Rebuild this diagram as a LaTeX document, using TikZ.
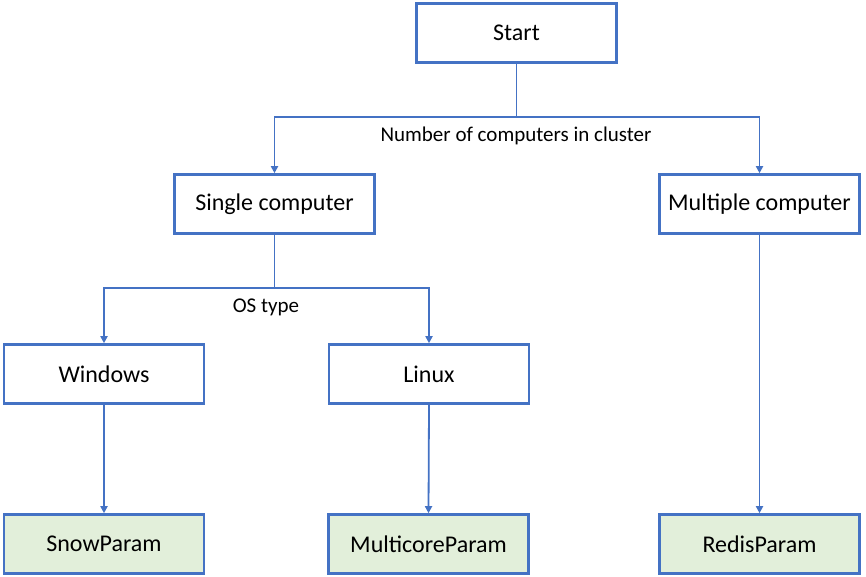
\documentclass[tikz,border=0pt]{standalone}
\usepackage{fontspec}
\setmainfont{Carlito}
\usetikzlibrary{arrows.meta}
\definecolor{bdr}{HTML}{4472C4}
\definecolor{grn}{HTML}{E2EFDA}
\tikzset{
  box/.style={draw=bdr, line width=2.6pt, fill=white, minimum width=200pt, minimum height=59pt, inner sep=0pt, font=\fontsize{24}{28}\selectfont},
  leaf/.style={box, fill=grn},
  conn/.style={draw=bdr, line width=1.8pt, -{Triangle[length=7pt,width=7pt]}},
  lbl/.style={font=\fontsize{21}{25}\selectfont, inner sep=0pt}
}
\begin{document}
\begin{tikzpicture}[x=1pt,y=-1pt]
\useasboundingbox (0,0) rectangle (866,577);
\node[box] (start) at (516.5,33) {Start};
\node[box] (single) at (274.5,204) {Single computer};
\node[box] (multi) at (759.5,204) {Multiple computer};
\node[box] (win) at (104,374) {Windows};
\node[box] (lin) at (429,374) {Linux};
\node[leaf] (snow) at (104,544) {SnowParam};
\node[leaf] (mc) at (428.5,544) {MulticoreParam};
\node[leaf] (redis) at (759.5,544) {RedisParam};
\coordinate (j1) at (516.5,117);
\coordinate (j2) at (274.5,288);
\draw[conn] (start.south) -- (j1) -| (single.north);
\draw[conn] (j1) -| (multi.north);
\draw[conn] (single.south) -- (j2) -| (win.north);
\draw[conn] (j2) -| (lin.north);
\draw[conn] (win.south) -- (snow.north);
\draw[conn] (lin.south) -- (mc.north);
\draw[conn] (multi.south) -- (redis.north);
\node[lbl] (l1) at (516,136) {Number of computers in cluster};
\node[lbl] (l2) at (266,307) {OS type};
\end{tikzpicture}
\end{document}
